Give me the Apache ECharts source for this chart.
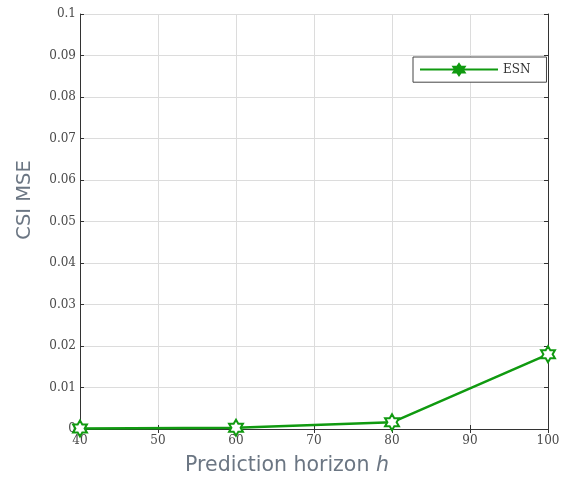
<!DOCTYPE html>
<html>
<head>
<meta charset="utf-8">
<script src="https://cdn.jsdelivr.net/npm/echarts@6/dist/echarts.min.js"></script>
<style>
  html, body { margin: 0; padding: 0; background: #fff; }
  #chart { width: 570px; height: 480px; }
</style>
</head>
<body>
<div id="chart"></div>
<script>
// data
var horizons = [40, 60, 80, 100];
var esnMse = [0.0001, 0.0003, 0.0016, 0.018];

var green = '#109a10';
var titleColor = '#6b7683';
var hexagram = 'path://M0,-10 L2.887,-5 L8.66,-5 L5.774,0 L8.66,5 L2.887,5 L0,10 L-2.887,5 L-8.66,5 L-5.774,0 L-8.66,-5 L-2.887,-5 Z';
var tickFont = { fontFamily: 'DejaVu Serif', fontSize: 12, color: '#4a4a4a' };

var chart = echarts.init(document.getElementById('chart'));
var option = {
    animation: false,
    grid: { left: 80, right: 22, top: 14, bottom: 51, outerBoundsMode: 'none' },
    legend: {
        data: [{ name: 'ESN', itemStyle: { color: green, borderColor: green, borderWidth: 2 } }],
        left: 413,
        top: 57,
        orient: 'vertical',
        itemWidth: 78,
        itemHeight: 14,
        itemGap: 0,
        padding: [6, 16, 6, 6],
        borderColor: '#444',
        borderWidth: 1,
        backgroundColor: '#fff',
        textStyle: { fontFamily: 'DejaVu Serif', fontSize: 12, color: '#333' }
    },
    xAxis: [{
        type: 'value',
        min: 40, max: 100, interval: 10,
        axisLine: { lineStyle: { color: '#333', width: 1 } },
        axisTick: { inside: true, length: 4, lineStyle: { color: '#333' } },
        axisLabel: Object.assign({ margin: 6 }, tickFont),
        splitLine: { lineStyle: { color: '#dcdcdc', width: 1 } }
    }, {
        type: 'value', position: 'top',
        min: 40, max: 100, interval: 10,
        axisLine: { show: true, lineStyle: { color: '#333', width: 1 } },
        axisTick: { show: true, inside: true, length: 4, lineStyle: { color: '#333' } },
        axisLabel: { show: false },
        splitLine: { show: false }
    }],
    yAxis: [{
        type: 'value',
        min: 0, max: 0.1, interval: 0.01,
        axisLine: { show: true, lineStyle: { color: '#333', width: 1 } },
        axisTick: { show: true, inside: true, length: 4, lineStyle: { color: '#333' } },
        axisLabel: Object.assign({ margin: 4 }, tickFont),
        splitLine: { lineStyle: { color: '#dcdcdc', width: 1 } }
    }, {
        type: 'value', position: 'right',
        min: 0, max: 0.1, interval: 0.01,
        axisLine: { show: true, lineStyle: { color: '#333', width: 1 } },
        axisTick: { show: true, inside: true, length: 4, lineStyle: { color: '#333' } },
        axisLabel: { show: false },
        splitLine: { show: false }
    }],
    graphic: [{
        type: 'text',
        x: 25, y: 200,
        rotation: Math.PI / 2,
        style: {
            text: 'CSI MSE',
            fontFamily: 'DejaVu Sans', fontSize: 19.5, fill: titleColor,
            align: 'center', verticalAlign: 'middle'
        }
    }, {
        type: 'text',
        x: 287, y: 466,
        style: {
            text: 'Prediction horizon {i|h}',
            fontFamily: 'DejaVu Sans', fontSize: 20.5, fill: titleColor,
            align: 'center', verticalAlign: 'middle',
            rich: { i: { fontFamily: 'DejaVu Sans', fontStyle: 'italic', fontSize: 20.5, fill: titleColor } }
        }
    }],
    series: [{
        name: 'ESN',
        type: 'line',
        data: horizons.map(function (h, i) { return [h, esnMse[i]]; }),
        symbol: hexagram,
        symbolSize: 16,
        symbolKeepAspect: true,
        showAllSymbol: true,
        lineStyle: { color: green, width: 2.5 },
        itemStyle: { color: '#fff', borderColor: green, borderWidth: 2 },
        z: 5
    }]
};
chart.setOption(option);
</script>
</body>
</html>
